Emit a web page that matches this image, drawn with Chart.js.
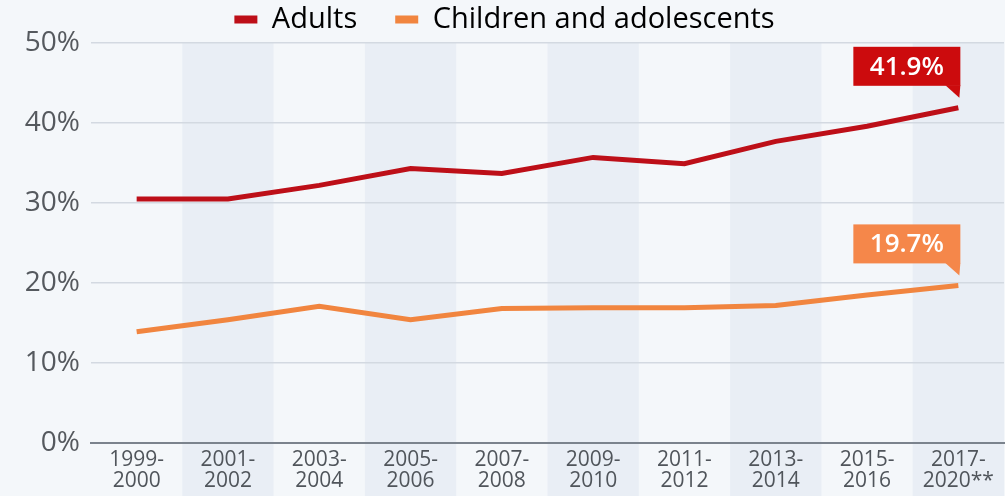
<!DOCTYPE html>
<html>
<head>
<meta charset="utf-8">
<script src="https://cdn.jsdelivr.net/npm/chart.js@4/dist/chart.umd.min.js"></script>
<style>
  html, body { margin: 0; padding: 0; background: #f4f7fa; }
  #wrap { width: 1005px; height: 496px; position: relative; }
</style>
</head>
<body>
<div id="wrap"><canvas id="c" width="1005" height="496"></canvas></div>
<script>
// Survey periods (two-line tick labels)
const periods = [
  ['1999-', '2000'], ['2001-', '2002'], ['2003-', '2004'], ['2005-', '2006'],
  ['2007-', '2008'], ['2009-', '2010'], ['2011-', '2012'], ['2013-', '2014'],
  ['2015-', '2016'], ['2017-', '2020**']
];
// Obesity prevalence, percent
const adults   = [30.5, 30.5, 32.2, 34.3, 33.7, 35.7, 34.9, 37.7, 39.6, 41.9];
const children = [13.9, 15.4, 17.1, 15.4, 16.8, 16.9, 16.9, 17.2, 18.5, 19.7];
const seriesNames = ['Adults', 'Children and adolescents'];
const yTicks = [0, 10, 20, 30, 40, 50];

const RED = '#bd0f18';
const RED_TAG = '#cc0b0d';
const ORANGE = '#f1853f';
const ORANGE_TAG = '#f5874a';
const FONT = "'Open Sans', 'Noto Sans', sans-serif";

// Page background plus alternating column bands
const bandsPlugin = {
  id: 'bands',
  beforeDraw(chart) {
    const { ctx, chartArea, scales: { x } } = chart;
    ctx.save();
    ctx.fillStyle = '#f4f7fa';
    ctx.fillRect(0, 0, chart.width, chart.height);
    const w = chartArea.width / periods.length;
    ctx.fillStyle = '#e9eef5';
    for (let i = 1; i < periods.length; i += 2) {
      const cx = x.getPixelForValue(i);
      ctx.fillRect(cx - w / 2, chartArea.top, w, chart.height - chartArea.top);
    }
    ctx.restore();
  }
};

// Value tags on the latest point of each series
const tagsPlugin = {
  id: 'tags',
  afterDatasetsDraw(chart) {
    const { ctx } = chart;
    const fills = [RED_TAG, ORANGE_TAG];
    chart.data.datasets.forEach((ds, di) => {
      const meta = chart.getDatasetMeta(di);
      const last = ds.data.length - 1;
      const pt = meta.data[last];
      const text = ds.data[last].toFixed(1) + '%';
      const boxW = 107, boxH = 39;
      const right = pt.x + 2;
      const bottom = pt.y - 22;
      const left = right - boxW;
      const top = bottom - boxH;
      ctx.save();
      ctx.fillStyle = fills[di];
      ctx.fillRect(left, top, boxW, boxH);
      ctx.beginPath();
      ctx.moveTo(right - 15, bottom - 0.5);
      ctx.lineTo(right, bottom - 0.5);
      ctx.lineTo(right - 1, bottom + 12);
      ctx.closePath();
      ctx.fill();
      ctx.fillStyle = '#ffffff';
      ctx.font = '600 26px ' + FONT;
      ctx.textAlign = 'center';
      ctx.textBaseline = 'middle';
      ctx.fillText(text, left + boxW / 2, top + boxH / 2 + 1);
      ctx.restore();
    });
  }
};

new Chart(document.getElementById('c'), {
  type: 'line',
  data: {
    labels: periods,
    datasets: [
      { label: seriesNames[0], data: adults, borderColor: RED, backgroundColor: RED,
        borderWidth: 5, pointRadius: 0, tension: 0 },
      { label: seriesNames[1], data: children, borderColor: ORANGE, backgroundColor: ORANGE,
        borderWidth: 5, pointRadius: 0, tension: 0 }
    ]
  },
  options: {
    responsive: false,
    animation: false,
    layout: { padding: { top: -33, left: 5, right: 1, bottom: 3 } },
    plugins: {
      tooltip: { enabled: false },
      legend: {
        position: 'top',
        maxHeight: 76,
        labels: {
          boxWidth: 23,
          boxHeight: 8,
          padding: 38,
          color: '#46505b',
          font: { family: FONT, size: 29 },
          generateLabels(chart) {
            return chart.data.datasets.map((ds, i) => ({
              text: ds.label, fillStyle: ds.borderColor, strokeStyle: ds.borderColor,
              lineWidth: 0, datasetIndex: i
            }));
          }
        }
      }
    },
    scales: {
      x: {
        offset: true,
        afterFit(scale) { scale.height = 50; },
        grid: { display: false, drawTicks: false },
        border: { display: true, color: '#7b838d', width: 2 },
        ticks: {
          color: '#50555b', padding: 7, maxRotation: 0, autoSkip: false,
          font: { family: FONT, size: 21, lineHeight: 1.0 }
        }
      },
      y: {
        min: 0, max: 50,
        afterFit(scale) { scale.width = 86; },
        afterBuildTicks(scale) { scale.ticks = yTicks.map(v => ({ value: v })); },
        grid: { color: '#d3d9e1', lineWidth: 1.5, drawTicks: false },
        border: { display: false },
        ticks: {
          color: '#55595e', padding: 11,
          font: { family: FONT, size: 28 },
          callback: v => v + '%'
        }
      }
    }
  },
  plugins: [bandsPlugin, tagsPlugin]
});
</script>
</body>
</html>
